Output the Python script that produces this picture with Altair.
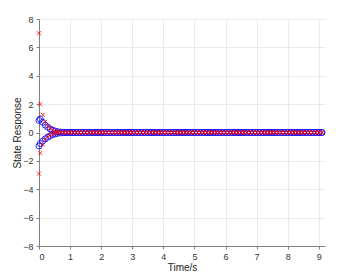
import altair as alt
import pandas as pd

TIME = [0.0, 0.04, 0.12, 0.2, 0.28, 0.36, 0.44, 0.52, 0.6, 0.7, 0.8, 0.9,
        1.0, 1.1, 1.2, 1.3, 1.4, 1.5, 1.6, 1.7, 1.8, 1.9,
        2.0, 2.1, 2.2, 2.3, 2.4, 2.5, 2.6, 2.7, 2.8, 2.9,
        3.0, 3.1, 3.2, 3.3, 3.4, 3.5, 3.6, 3.7, 3.8, 3.9,
        4.0, 4.1, 4.2, 4.3, 4.4, 4.5, 4.6, 4.7, 4.8, 4.9,
        5.0, 5.1, 5.2, 5.3, 5.4, 5.5, 5.6, 5.7, 5.8, 5.9,
        6.0, 6.1, 6.2, 6.3, 6.4, 6.5, 6.6, 6.7, 6.8, 6.9,
        7.0, 7.1, 7.2, 7.3, 7.4, 7.5, 7.6, 7.7, 7.8, 7.9,
        8.0, 8.1, 8.2, 8.3, 8.4, 8.5, 8.6, 8.7, 8.8, 8.9,
        9.0, 9.1]

TAIL = [0.0] * 82

X1_UPPER = [7.0, 2.0, 1.25, 0.75, 0.45, 0.28, 0.17, 0.1, 0.06, 0.03, 0.015, 0.008] + TAIL
X1_LOWER = [-2.9, -1.45, -0.85, -0.5, -0.3, -0.18, -0.1, -0.06, -0.03, -0.015, -0.008, -0.004] + TAIL
X2_UPPER = [0.85, 0.95, 0.72, 0.52, 0.37, 0.25, 0.16, 0.1, 0.06, 0.03, 0.015, 0.008] + TAIL
X2_LOWER = [-0.95, -0.78, -0.6, -0.45, -0.33, -0.23, -0.15, -0.1, -0.06, -0.03, -0.015, -0.008] + TAIL

SERIES = ["x1", "x2"]
COLORS = ["#ff0000", "#0000ff"]

rows = []
for name, vals in [("x1", X1_UPPER), ("x1", X1_LOWER), ("x2", X2_UPPER), ("x2", X2_LOWER)]:
    for t, v in zip(TIME, vals):
        rows.append({"t": t, "v": v, "series": name, "draw": 1 if name == "x1" else 0})
df = pd.DataFrame(rows)

FONT = "Liberation Sans"

chart = alt.Chart(df).mark_point(filled=False, strokeWidth=0.8, opacity=1).encode(
    x=alt.X("t:Q", scale=alt.Scale(domain=[0, 9.2], nice=False, zero=False),
            axis=alt.Axis(values=list(range(10)), title="Time/s", format="d")),
    y=alt.Y("v:Q", scale=alt.Scale(domain=[-8, 8], nice=False),
            axis=alt.Axis(values=[-8, -6, -4, -2, 0, 2, 4, 6, 8], title="State Response", format="d")),
    color=alt.Color("series:N", scale=alt.Scale(domain=SERIES, range=COLORS), title=None),
    shape=alt.Shape("series:N", scale=alt.Scale(domain=SERIES, range=["M-0.7,-0.7L0.7,0.7M-0.7,0.7L0.7,-0.7", "circle"]), title=None),
    size=alt.Size("series:N", scale=alt.Scale(domain=SERIES, range=[34, 36]), legend=None),
    order=alt.Order("draw:Q"),
).properties(
    width=286, height=227,
    autosize=alt.AutoSizeParams(type="none"),
    padding={"left": 31, "top": 11, "right": 10, "bottom": 28},
).configure_view(
    stroke=None
).configure_axis(
    gridColor="#e6e6e6", gridWidth=0.8,
    domainColor="#808080", tickColor="#808080", tickSize=3,
    labelFont=FONT, labelFontSize=9, labelColor="#333333", labelPadding=3,
    titleFont=FONT, titleFontSize=10, titleFontWeight="normal", titleColor="#222222",
).configure_axisY(
    titlePadding=0
).configure_axisX(
    titlePadding=1
).configure_legend(
    orient="none", legendX=234, legendY=6,
    fillColor="white", strokeColor="#999999", padding=4,
    labelFont=FONT, labelFontSize=9, labelColor="#222222",
    symbolSize=30, symbolStrokeWidth=0.8, rowPadding=2, labelOffset=12,
    symbolOffset=10
)

chart.save("out.html", embed_options={"renderer": "svg", "actions": False})
